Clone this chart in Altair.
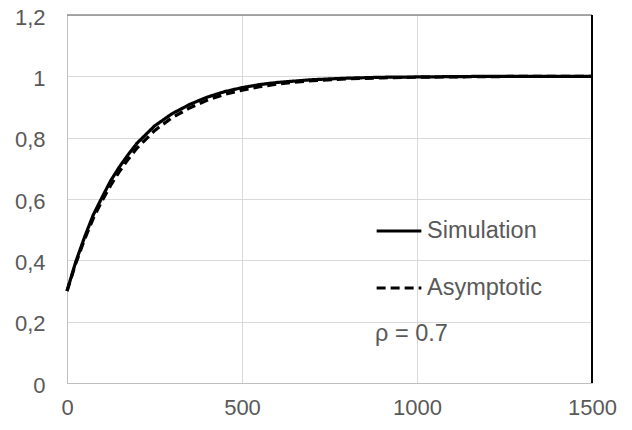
import altair as alt
import pandas as pd

x_vals = [0, 25, 50, 75, 100, 125, 150, 175, 200, 250, 300, 350, 400, 450, 500,
          550, 600, 700, 800, 900, 1000, 1100, 1200, 1300, 1400, 1500]
simulation = [0.300, 0.395, 0.475, 0.548, 0.605, 0.660, 0.705, 0.745, 0.782, 0.838,
              0.878, 0.908, 0.932, 0.950, 0.963, 0.973, 0.980, 0.989, 0.994, 0.997,
              0.998, 0.999, 1.000, 1.000, 1.000, 1.000]
asymptotic = [0.300, 0.390, 0.468, 0.537, 0.594, 0.645, 0.690, 0.730, 0.766, 0.823,
              0.865, 0.897, 0.922, 0.941, 0.955, 0.966, 0.975, 0.986, 0.992, 0.995,
              0.997, 0.998, 0.999, 1.000, 1.000, 1.000]
series_names = ["Simulation", "Asymptotic"]
x_ticks = [0, 500, 1000, 1500]
y_ticks = [0, 0.2, 0.4, 0.6, 0.8, 1.0, 1.2]

rows = []
for name, vals in zip(series_names, [simulation, asymptotic]):
    for xv, yv in zip(x_vals, vals):
        rows.append({"x": xv, "y": yv, "series": name})
df = pd.DataFrame(rows)

FONT = "Liberation Sans"
GRAY = "#595959"

xscale = alt.Scale(domain=[0, 1500], nice=False)
yscale = alt.Scale(domain=[0, 1.2], nice=False)

lines = alt.Chart(df).mark_line(strokeWidth=3.2, color="black").encode(
    x=alt.X("x:Q", scale=xscale, title=None,
            axis=alt.Axis(values=x_ticks, format="d", ticks=False, grid=True,
                          gridColor="#d9d9d9", domainColor="#bfbfbf",
                          labelFontSize=22, labelColor=GRAY, labelFont=FONT,
                          labelPadding=14, labelFlush=False)),
    y=alt.Y("y:Q", scale=yscale, title=None,
            axis=alt.Axis(values=y_ticks, ticks=False, grid=True,
                          gridColor="#d9d9d9", domainColor="#bfbfbf",
                          labelExpr="replace(format(datum.value, '~g'), '.', ',')",
                          labelFontSize=22, labelColor=GRAY, labelFont=FONT,
                          labelPadding=22, labelOffset=2)),
    strokeDash=alt.StrokeDash(
        "series:N",
        scale=alt.Scale(domain=series_names, range=[[1, 0], [9, 5]]),
        legend=alt.Legend(
            title="ρ = 0.7", titleOrient="bottom", titleAnchor="start",
            titleFontSize=23.5, titleColor=GRAY, titleFont=FONT,
            titleFontWeight="normal", titlePadding=22,
            orient="none", legendX=308, legendY=192,
            symbolType="stroke", symbolSize=2000, symbolStrokeWidth=3.2,
            symbolStrokeColor="black",
            labelFontSize=23.5, labelColor=GRAY, labelFont=FONT, labelOffset=4,
            rowPadding=21, symbolOffset=0,
        ),
    ),
    detail="series:N",
)

top_rule = alt.Chart().mark_rule(color="#8c8c8c", strokeWidth=1.5).encode(
    y=alt.datum(1.2, scale=yscale)
)
right_rule = alt.Chart().mark_rule(color="#000000", strokeWidth=2).encode(
    x=alt.datum(1500, scale=xscale)
)

chart = alt.layer(lines, top_rule, right_rule).properties(
    width=525, height=368,
    autosize=alt.AutoSizeParams(type="none"),
    padding={"left": 59, "top": 7, "right": 32, "bottom": 39},
).configure_view(stroke=None).configure(font=FONT)

chart.save("out.html", embed_options={"renderer": "svg", "actions": False})
